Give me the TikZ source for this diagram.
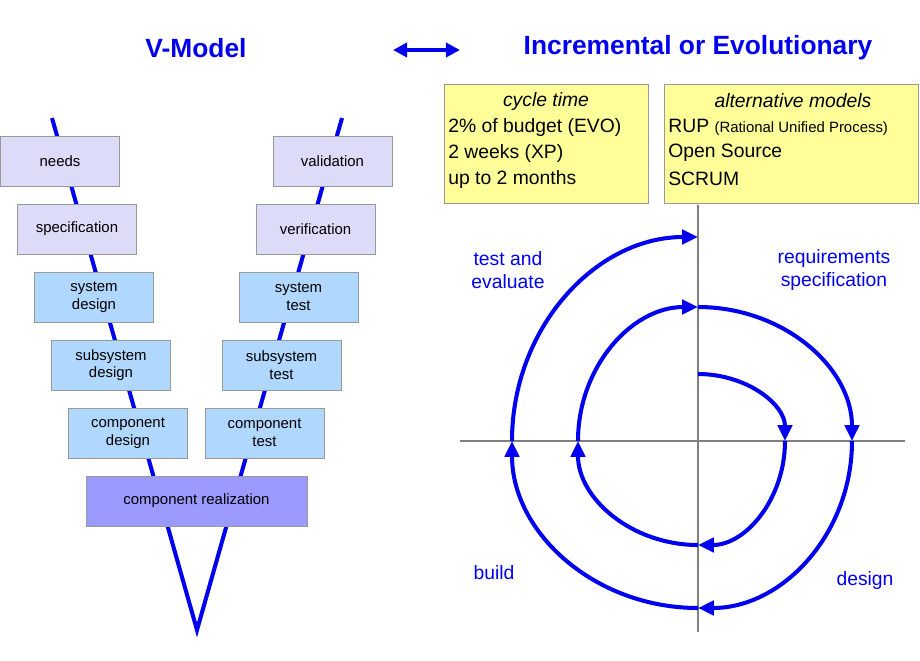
\documentclass[tikz,border=0pt]{standalone}
\usepackage{fontspec}
\setmainfont{Liberation Sans}
\usetikzlibrary{arrows.meta}
\definecolor{vblue}{HTML}{0000EE}
\definecolor{lav}{HTML}{DCDCF8}
\definecolor{lblue}{HTML}{B0D8FF}
\definecolor{realiz}{HTML}{9A9AFF}
\definecolor{note}{HTML}{FFFF99}
\tikzset{
  stage/.style={draw=gray!80, minimum width=2.38cm, minimum height=1cm, align=center, font=\fontsize{8.5}{10}\selectfont, inner sep=1pt},
  title/.style={text=vblue, font=\fontsize{15}{18}\selectfont\bfseries},
  lbl/.style={text=vblue, align=center, font=\fontsize{11}{13}\selectfont},
  txt/.style={anchor=west, font=\fontsize{11}{13}\selectfont, inner sep=0pt},
  spiral/.style={vblue, line width=2.3pt, -{Triangle[length=9pt,width=8pt]}}
}
\begin{document}
\begin{tikzpicture}[x=0.02cm,y=-0.02cm]
  \useasboundingbox (0,0) rectangle (920,660);

  % V lines
  \draw[vblue, line width=2.3pt] (52,118) -- (197,630) -- (342,118);

  % left branch
  \node[stage, fill=lav] (needs) at (60,161) {needs};
  \node[stage, fill=lav] (spec) at (77,229) {specification};
  \node[stage, fill=lblue] (sysd) at (94,297) {system\\design};
  \node[stage, fill=lblue] (subd) at (111,365) {subsystem\\design};
  \node[stage, fill=lblue] (compd) at (128,433) {component\\design};
  \node[stage, fill=realiz, minimum width=4.42cm] (real) at (196.5,501) {component realization};
  % right branch
  \node[stage, fill=lav] (valid) at (332.5,161) {validation};
  \node[stage, fill=lav] (verif) at (315.5,229) {verification};
  \node[stage, fill=lblue] (syst) at (298.5,297) {system\\test};
  \node[stage, fill=lblue] (subt) at (281.5,365) {subsystem\\test};
  \node[stage, fill=lblue] (compt) at (264.5,433) {component\\test};

  % titles
  \node[title] (vmodel) at (196,48) {V-Model};
  \node[title] (incr) at (698,48) {Incremental or Evolutionary};
  \draw[vblue, line width=2pt, {Triangle[length=8pt,width=8pt]}-{Triangle[length=8pt,width=8pt]}] (393,50) -- (460,50);

  % yellow notes
  \draw[gray!80, fill=note] (444,84) rectangle (648,203);
  \draw[gray!80, fill=note] (664,84) rectangle (918,203);
  \node[font=\fontsize{11}{13}\selectfont\itshape] at (546,101) {cycle time};
  \node[txt] at (448,127) {2\% of budget (EVO)};
  \node[txt] at (448,153) {2 weeks (XP)};
  \node[txt] at (448,179) {up to 2 months};
  \node[font=\fontsize{11}{13}\selectfont\itshape] at (793,101) {alternative models};
  \node[txt] at (668,127) {RUP {\fontsize{8.5}{10}\selectfont(Rational Unified Process)}};
  \node[txt] at (668,153) {Open Source};
  \node[txt] at (668,179) {SCRUM};

  % axes
  \draw[gray, line width=1.3pt] (698,205) -- (698,632);
  \draw[gray, line width=1.3pt] (460,441) -- (905,441);

  % spiral
  \draw[spiral] (698,374) arc[start angle=-90, end angle=0, x radius=87, y radius=67];
  \draw[spiral] (785,441) arc[start angle=0, end angle=90, x radius=87, y radius=104];
  \draw[spiral] (698,545) arc[start angle=90, end angle=180, x radius=120, y radius=104];
  \draw[spiral] (578,441) arc[start angle=180, end angle=270, x radius=120, y radius=134];
  \draw[spiral] (698,307) arc[start angle=-90, end angle=0, x radius=154, y radius=134];
  \draw[spiral] (852,441) arc[start angle=0, end angle=90, x radius=154, y radius=167];
  \draw[spiral] (698,608) arc[start angle=90, end angle=180, x radius=186, y radius=167];
  \draw[spiral] (512,441) arc[start angle=180, end angle=270, x radius=186, y radius=204];

  % quadrant labels
  \node[lbl] at (508,270) {test and\\evaluate};
  \node[lbl] at (834,270) {requirements\\specification};
  \node[lbl] at (494,573) {build};
  \node[lbl] at (865,580) {design};
\end{tikzpicture}
\end{document}
